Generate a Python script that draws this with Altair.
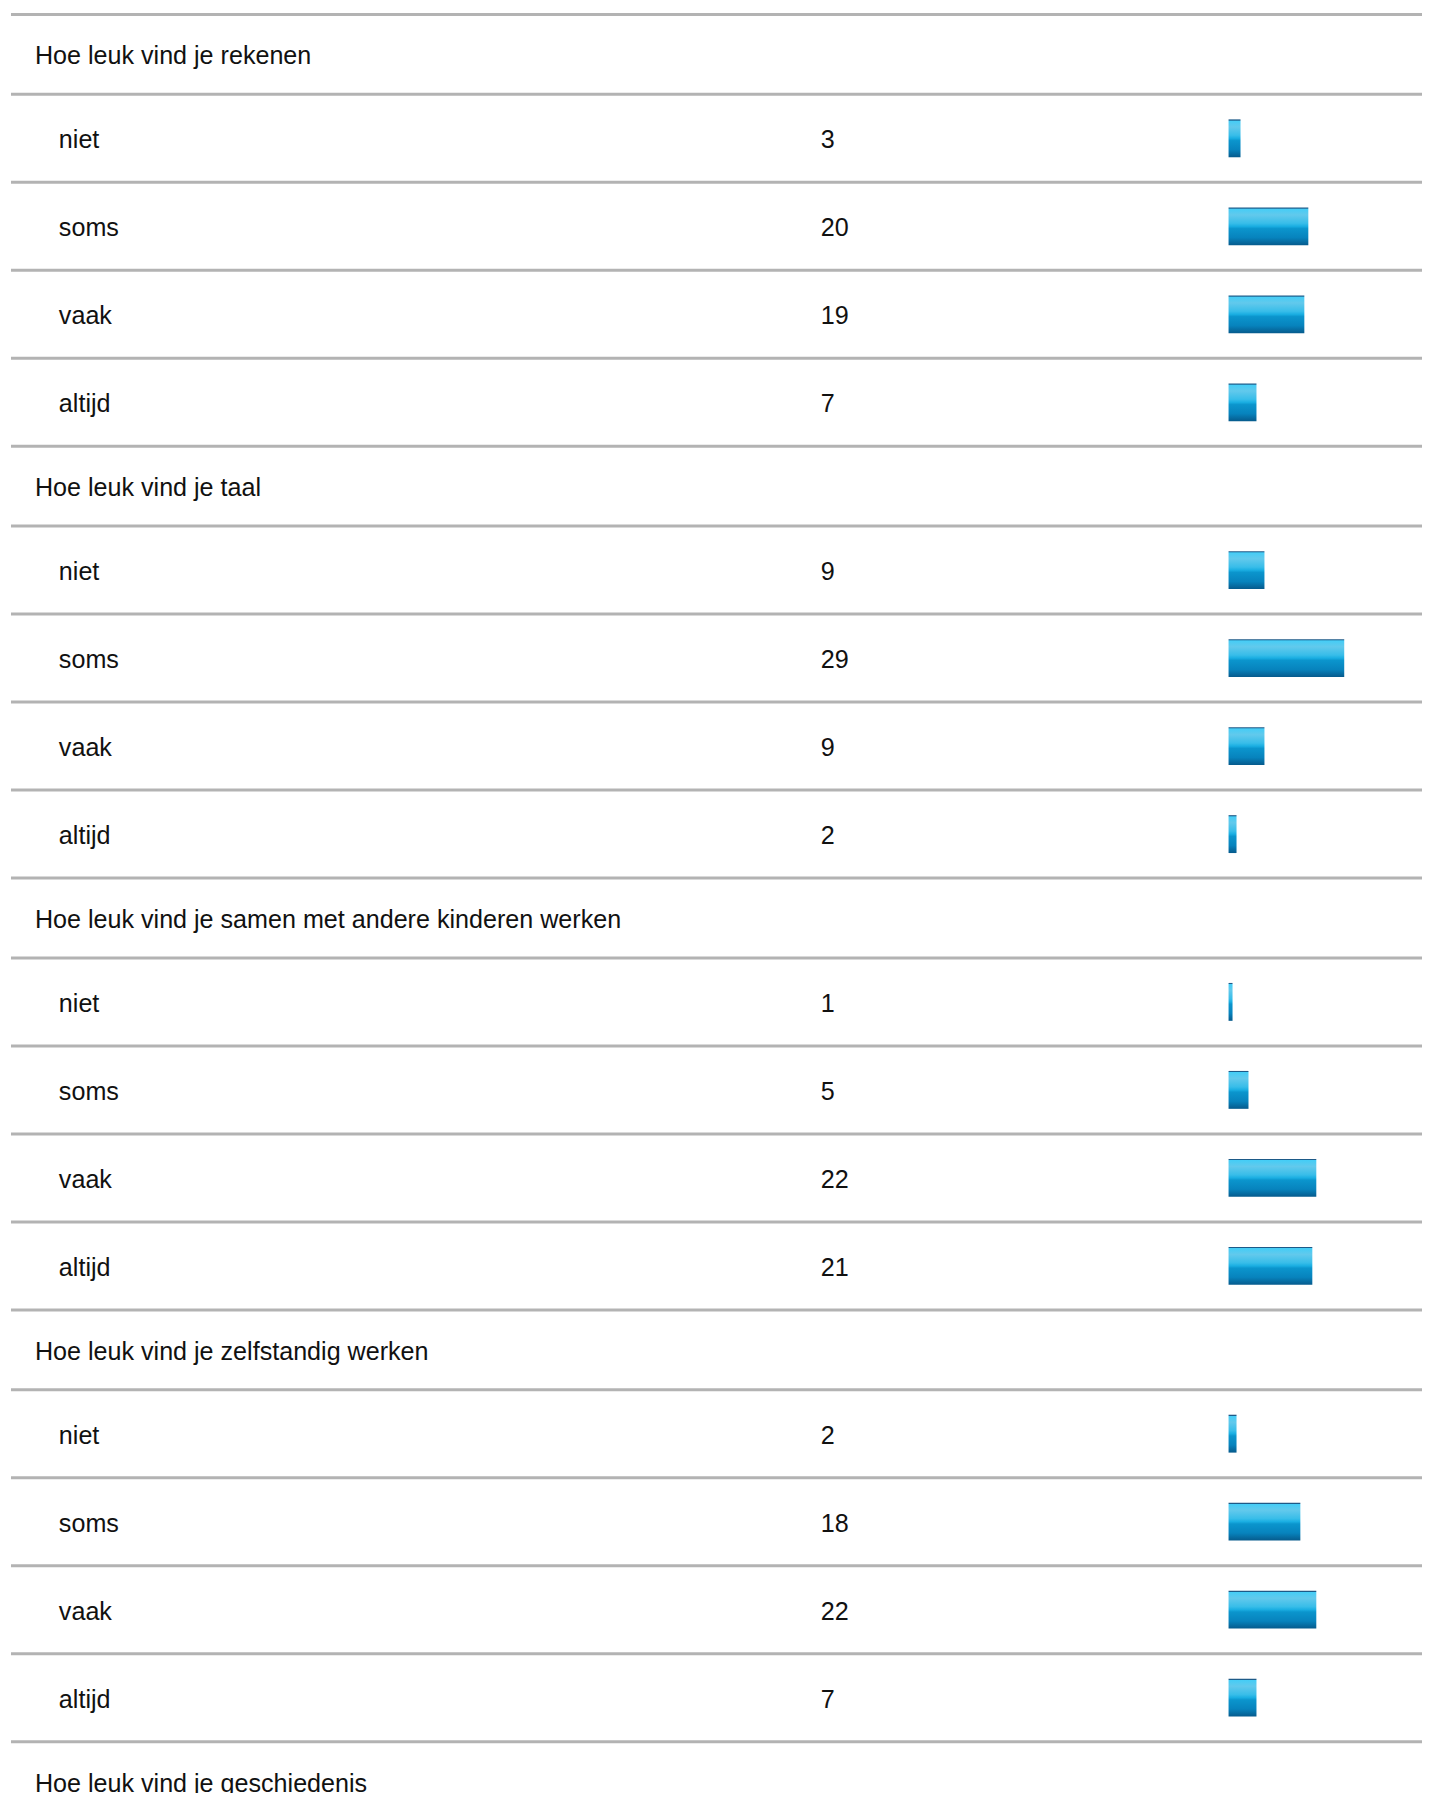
import altair as alt
import pandas as pd

questions = [
    "Hoe leuk vind je rekenen",
    "Hoe leuk vind je taal",
    "Hoe leuk vind je samen met andere kinderen werken",
    "Hoe leuk vind je zelfstandig werken",
    "Hoe leuk vind je geschiedenis",
]
answers = ["niet", "soms", "vaak", "altijd"]
rekenen = [3, 20, 19, 7]
taal = [9, 29, 9, 2]
samen = [1, 5, 22, 21]
zelfstandig = [2, 18, 22, 7]
counts = [rekenen, taal, samen, zelfstandig]

W = 1415
HEADER_H = 80
ROW_H = 88.25
FONT = "Liberation Sans"
FS = 25.2
TXT = "#111111"
RULE = "#b3b3b3"

gradient = alt.LinearGradient(
    gradient="linear",
    x1=0, x2=0, y1=0, y2=1,
    stops=[
        alt.GradientStop(color="#1d5a88", offset=0.0),
        alt.GradientStop(color="#1d5a88", offset=0.025),
        alt.GradientStop(color="#45cdf6", offset=0.04),
        alt.GradientStop(color="#62c9ec", offset=0.2),
        alt.GradientStop(color="#38bde9", offset=0.42),
        alt.GradientStop(color="#1aaee2", offset=0.5),
        alt.GradientStop(color="#0b95cd", offset=0.56),
        alt.GradientStop(color="#0783bd", offset=0.8),
        alt.GradientStop(color="#065a8c", offset=1.0),
    ],
)


def header_chart(q):
    df = pd.DataFrame({"question": [q]})
    base = alt.Chart(df)
    rule = base.mark_rule(color=RULE, strokeWidth=3).encode(
        x=alt.value(0), x2=alt.value(W), y=alt.value(0)
    )
    text = base.mark_text(
        align="left", baseline="alphabetic", font=FONT, fontSize=FS, color=TXT, dy=10
    ).encode(x=alt.value(24), y=alt.value(HEADER_H / 2), text="question:N")
    return alt.layer(rule, text).properties(width=W, height=HEADER_H)


def items_chart(vals):
    df = pd.DataFrame({"answer": answers, "count": vals})
    base = alt.Chart(df)
    yscale = alt.Scale(domain=answers, paddingInner=0, paddingOuter=0)
    rule = base.mark_rule(color=RULE, strokeWidth=3).encode(
        x=alt.value(0), x2=alt.value(W),
        y=alt.Y("answer:N", scale=yscale, axis=None, bandPosition=0),
    )
    label = base.mark_text(
        align="left", baseline="alphabetic", font=FONT, fontSize=FS, color=TXT, dy=10
    ).encode(
        x=alt.value(48),
        y=alt.Y("answer:N", scale=yscale, axis=None),
        text="answer:N",
    )
    num = base.mark_text(
        align="left", baseline="alphabetic", font=FONT, fontSize=FS, color=TXT, dy=10
    ).encode(
        x=alt.value(812),
        y=alt.Y("answer:N", scale=yscale, axis=None),
        text="count:Q",
    )
    bar = base.mark_bar(height=38, color=gradient).encode(
        x=alt.X("count:Q", scale=alt.Scale(domain=[0, 29], range=[1221, 1337]), axis=None),
        y=alt.Y("answer:N", scale=yscale, axis=None),
    )
    return alt.layer(rule, label, num, bar).properties(width=W, height=ROW_H * len(answers))


panels = []
for i, q in enumerate(questions):
    panels.append(header_chart(q))
    if i < len(counts):
        panels.append(items_chart(counts[i]))

chart = (
    alt.vconcat(*panels, spacing=0, bounds="flush")
    .properties(padding={"left": 1, "top": 2, "right": 0, "bottom": 0})
    .configure_view(stroke=None)
)

chart.save("out.html", embed_options={"renderer": "svg", "actions": False})
